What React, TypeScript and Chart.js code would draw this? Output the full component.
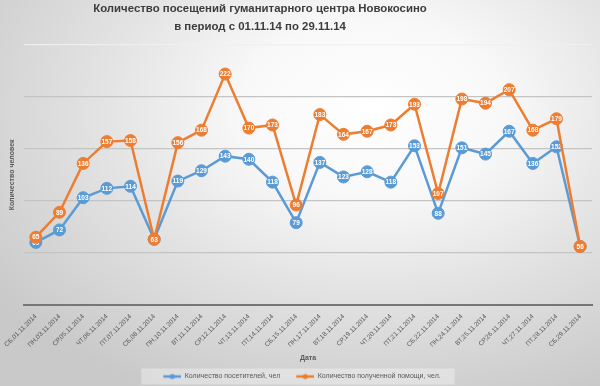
import { useEffect, useRef } from "react";
import { Chart, registerables } from "chart.js";

Chart.register(...registerables);

const titleLines = [
  "Количество посещений гуманитарного центра Новокосино",
  "в период с 01.11.14 по 29.11.14",
];

const categories = [
  "СБ,01.11.2014", "ПН,03.11.2014", "СР,05.11.2014", "ЧТ,06.11.2014",
  "ПТ,07.11.2014", "СБ,08.11.2014", "ПН,10.11.2014", "ВТ,11.11.2014",
  "СР,12.11.2014", "ЧТ,13.11.2014", "ПТ,14.11.2014", "СБ,15.11.2014",
  "ПН,17.11.2014", "ВТ,18.11.2014", "СР,19.11.2014", "ЧТ,20.11.2014",
  "ПТ,21.11.2014", "СБ,22.11.2014", "ПН,24.11.2014", "ВТ,25.11.2014",
  "СР,26.11.2014", "ЧТ,27.11.2014", "ПТ,28.11.2014", "СБ,29.11.2014",
];

const visitors = [60, 72, 103, 112, 114, 63, 119, 129, 143, 140, 118, 79, 137, 123, 128, 118, 153, 88, 151, 145, 167, 136, 152, 56];
const aid = [65, 89, 136, 157, 158, 63, 156, 168, 222, 170, 173, 96, 183, 164, 167, 173, 193, 107, 198, 194, 207, 168, 179, 56];

const seriesNames = ["Количество посетителей, чел", "Количество полученной помощи, чел."];
const seriesColors = ["#5B9BD5", "#ED7D31"];

const yMin = 0;
const yMax = 250;
const yStep = 50;

const xTitle = "Дата";
const yTitle = "Количество человек";

const FONT = "'Liberation Sans', Arial, sans-serif";

function makeMarker(color: string): HTMLCanvasElement {
  const c = document.createElement("canvas");
  c.width = 30;
  c.height = 8;
  const ctx = c.getContext("2d")!;
  ctx.strokeStyle = color;
  ctx.lineWidth = 2.5;
  ctx.beginPath();
  ctx.moveTo(12, 4);
  ctx.lineTo(30, 4);
  ctx.stroke();
  ctx.fillStyle = color;
  ctx.beginPath();
  ctx.arc(21, 4, 2.6, 0, Math.PI * 2);
  ctx.fill();
  return c;
}

const pointLabels = {
  id: "pointLabels",
  afterDatasetDraw(chart: any, args: any) {
    const meta = args.meta;
    const ds = chart.data.datasets[args.index];
    const ctx = chart.ctx;
    ctx.save();
    ctx.font = `bold 6.5px ${FONT}`;
    ctx.fillStyle = "#ffffff";
    ctx.textAlign = "center";
    ctx.textBaseline = "middle";
    meta.data.forEach((pt: any, i: number) => {
      ctx.fillText(String(ds.data[i]), pt.x, pt.y + 0.5);
    });
    ctx.restore();
  },
};

const legendBox = {
  id: "legendBox",
  beforeDraw(chart: any) {
    const lg = chart.legend;
    if (!lg || !lg.legendHitBoxes || !lg.legendHitBoxes.length) return;
    const hb = lg.legendHitBoxes;
    const first = hb[0];
    const last = hb[hb.length - 1];
    const x0 = first.left + 12 - 22;
    const x1 = last.left + last.width + 14;
    const yc = first.top + first.height / 2;
    const ctx = chart.ctx;
    ctx.save();
    ctx.fillStyle = "rgba(255,255,255,0.35)";
    ctx.fillRect(x0, yc - 8, x1 - x0, 16);
    ctx.restore();
  },
};

// the title in the reference is centred at x≈260, not over the whole canvas
const titleShift = {
  id: "titleShift",
  afterLayout(chart: any) {
    const t = chart.titleBlock;
    if (t) {
      t.left = 0;
      t.right = 520;
    }
  },
};

export default function App() {
  const ref = useRef<HTMLCanvasElement>(null);

  useEffect(() => {
    if (!ref.current) return;
    const markers = seriesColors.map(makeMarker);
    const chart = new Chart(ref.current, {
      type: "line",
      data: {
        labels: categories,
        datasets: [
          {
            label: seriesNames[0],
            data: visitors,
            borderColor: seriesColors[0],
            backgroundColor: seriesColors[0],
            pointBackgroundColor: seriesColors[0],
            pointBorderColor: seriesColors[0],
            borderWidth: 2.5,
            pointRadius: 6,
            pointBorderWidth: 1,
            tension: 0,
            order: 1,
          },
          {
            label: seriesNames[1],
            data: aid,
            borderColor: seriesColors[1],
            backgroundColor: seriesColors[1],
            pointBackgroundColor: seriesColors[1],
            pointBorderColor: seriesColors[1],
            borderWidth: 2.5,
            pointRadius: 6,
            pointBorderWidth: 1,
            tension: 0,
            order: 0,
          },
        ],
      },
      options: {
        responsive: false,
        animation: false,
        events: [],
        layout: {
          autoPadding: false,
          padding: { left: 0, right: 8, top: 0, bottom: -4 },
        },
        plugins: {
          title: {
            display: true,
            text: titleLines,
            color: "#3c3c3c",
            font: { family: FONT, size: 11.4, weight: "bold", lineHeight: 18 / 11.4 },
            padding: { top: 0, bottom: 9 },
          },
          legend: {
            display: true,
            position: "bottom",
            labels: {
              usePointStyle: true,
              pointStyleWidth: 30,
              padding: 4,
              color: "#595959",
              font: { family: FONT, size: 7 },
              sort: (a: any, b: any) => a.datasetIndex - b.datasetIndex,
              generateLabels: (ch: any) => {
                const items = (Chart.defaults.plugins.legend.labels as any).generateLabels(ch);
                items.forEach((it: any) => {
                  it.pointStyle = markers[it.datasetIndex];
                });
                return items;
              },
            },
          },
          tooltip: { enabled: false },
        },
        scales: {
          x: {
            offset: true,
            grid: { display: false },
            border: { display: true, color: "#767676", width: 2 },
            ticks: {
              color: "#595959",
              font: { family: FONT, size: 6.5 },
              minRotation: 45,
              maxRotation: 45,
              autoSkip: false,
              padding: 0,
            },
            title: {
              display: true,
              text: xTitle,
              color: "#595959",
              font: { family: FONT, size: 7, weight: "bold", lineHeight: 1.2 },
              padding: { top: 5, bottom: 6.8 },
            },
          },
          y: {
            min: yMin,
            max: yMax,
            ticks: { display: false, stepSize: yStep },
            border: { display: false },
            grid: {
              drawTicks: false,
              lineWidth: 1.2,
              color: (c: any) => {
                const v = c.tick ? c.tick.value : 0;
                if (v === yMin) return "rgba(0,0,0,0)";
                if (v === yMax) return "rgba(240,240,240,0.9)";
                return "#c4c4c4";
              },
            },
            title: {
              display: true,
              text: yTitle,
              color: "#595959",
              font: { family: FONT, size: 7, weight: "bold", lineHeight: 1.2 },
              padding: { top: 7.8, bottom: 7.8 },
            },
          },
        },
      },
      plugins: [pointLabels, legendBox, titleShift],
    } as any);
    return () => chart.destroy();
  }, []);

  return (
    <div
      style={{
        position: "absolute",
        left: 0,
        top: 0,
        width: 600,
        height: 386,
        background:
          "radial-gradient(ellipse 78% 82% at 62% 28%, #ffffff 0%, #f8f8f8 28%, #e3e3e3 58%, #c9c9c9 100%)",
      }}
    >
      <canvas ref={ref} width={600} height={386} style={{ width: 600, height: 386, display: "block" }} />
    </div>
  );
}
